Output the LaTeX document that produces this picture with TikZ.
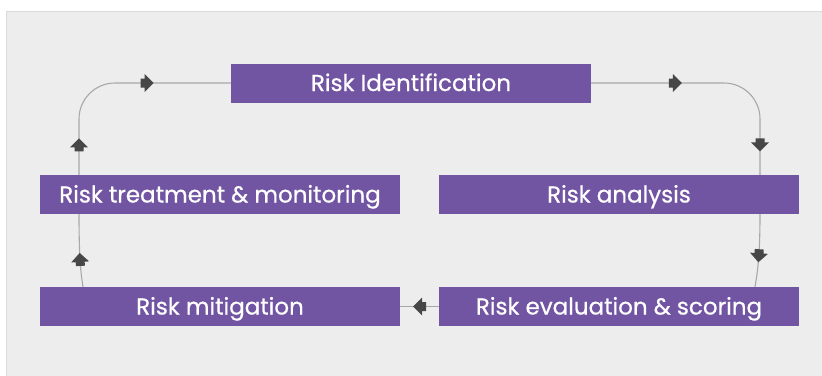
\documentclass[tikz,border=0pt]{standalone}
\usepackage{fontspec}
\setmainfont{Poppins}
\newfontfamily\stagefont{Poppins}[FakeBold=0.6]
\usetikzlibrary{positioning}
\definecolor{cpurple}{HTML}{7155A3}
\definecolor{cbg}{HTML}{EDEDED}
\definecolor{cframe}{HTML}{DADADA}
\definecolor{cline}{HTML}{A8A8A8}
\definecolor{ctip}{HTML}{474747}
\tikzset{
  every picture/.style={x=1pt, y=-1pt},
  stage/.style={fill=cpurple, text=white, minimum width=360pt, minimum height=39pt, inner sep=0pt, text height=16pt, text depth=0pt, font=\stagefont\fontsize{23}{26}\selectfont},
  flow/.style={draw=cline, line width=1.1pt},
  flowtip/.pic={\fill[ctip, sharp corners] (-6.5,-4.5) -- (-2.5,-4.5) -- (-2.5,-9) -- (6.5,0) -- (-2.5,9) -- (-2.5,4.5) -- (-6.5,4.5) -- cycle;},
  tip/.style={sloped, allow upside down},
}
\begin{document}
\begin{tikzpicture}
  \useasboundingbox (0,0) rectangle (822,375);
  \fill[cbg, draw=cframe, line width=0.8pt] (6,11) rectangle (823,376);
  % stages
  \node[stage] (ident) at (411,83) {Risk Identification};
  \node[stage] (treat) at (220,194.5) {Risk treatment \& monitoring};
  \node[stage] (anal) at (619,194.5) {Risk analysis};
  \node[stage] (mitig) at (220,306.5) {Risk mitigation};
  \node[stage] (eval) at (619,306.5) {Risk evaluation \& scoring};
  % connectors
  \draw[flow, rounded corners=36pt] ([xshift=-141pt]treat.north) |-
    pic[tip, pos=0.163] {flowtip} pic[tip, pos=0.724] {flowtip} (ident.west);
  \draw[flow, rounded corners=36pt] (ident.east) -|
    pic[tip, pos=0.249] {flowtip} pic[tip, pos=0.837] {flowtip} ([xshift=141pt]anal.north);
  \draw[flow] ([xshift=141pt]anal.south) .. controls ++(0,45) and ++(2,-12) .. pic[tip, pos=0.4] {flowtip} ([xshift=136pt]eval.north);
  \draw[flow] (eval.west) -- pic[tip, pos=0.5] {flowtip} (mitig.east);
  \draw[flow] ([xshift=-137pt]mitig.north) .. controls ++(-2,-12) and ++(0,45) .. pic[tip, pos=0.55] {flowtip} ([xshift=-141pt]treat.south);
\end{tikzpicture}
\end{document}
